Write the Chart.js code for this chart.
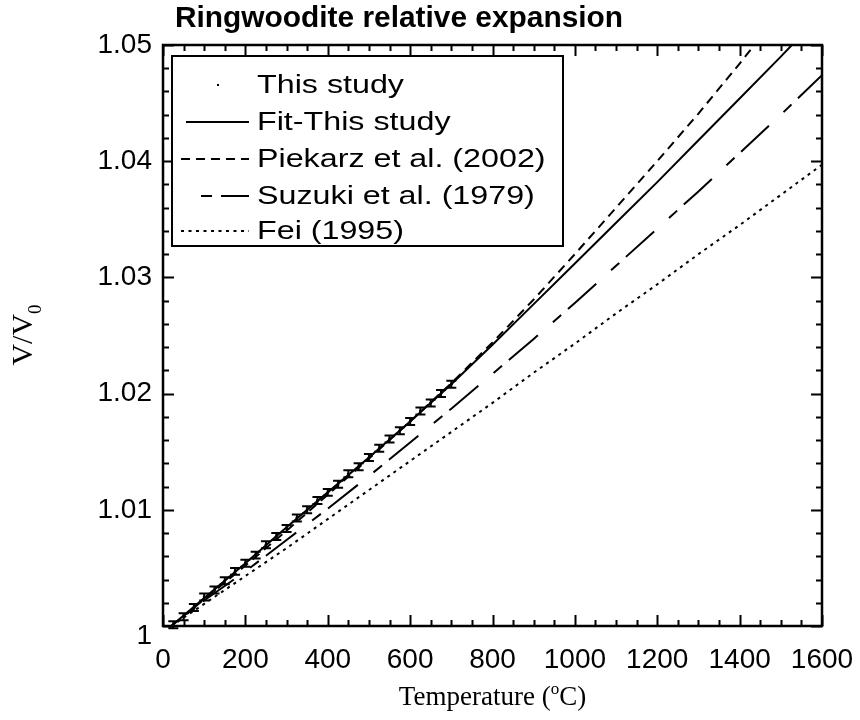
<!DOCTYPE html>
<html>
<head>
<meta charset="utf-8">
<script src="https://cdn.jsdelivr.net/npm/chart.js@4"></script>
<style>
  body { margin: 0; background: #fff; }
  #wrap { width: 860px; height: 720px; }
</style>
</head>
<body>
<div id="wrap"><canvas id="c" width="860" height="720"></canvas></div>
<script>
// ================= DATA =================
const TITLE = "Ringwoodite relative expansion";

// measured points (This study) with error bars
const OBS_T = [25, 50, 75, 100, 125, 150, 175, 200, 225, 250, 275, 300, 325, 350,
               375, 400, 425, 450, 475, 500, 525, 550, 575, 600, 625, 650, 675, 700];
const OBS_V = [1.0001, 1.0008, 1.0016, 1.0025, 1.0031, 1.0039, 1.0047, 1.0054, 1.0061, 1.0070,
               1.0077, 1.0084, 1.0093, 1.0100, 1.0108, 1.0115, 1.0122, 1.0131, 1.0137, 1.0145,
               1.0153, 1.0161, 1.0168, 1.0176, 1.0185, 1.0192, 1.0200, 1.0208];
const OBS_ERR = [0.0003, 0.0003, 0.0003, 0.0003, 0.0003, 0.0003, 0.0003, 0.0003, 0.0003, 0.0003,
                 0.0003, 0.0003, 0.0003, 0.0003, 0.0003, 0.0003, 0.0003, 0.0003, 0.0003, 0.0003,
                 0.0003, 0.0003, 0.0003, 0.0003, 0.0003, 0.0003, 0.0003, 0.0003];

// model curves
const LINE_T  = [20, 100, 200, 300, 400, 500, 600, 700, 800, 900, 1000, 1100, 1200, 1300, 1400, 1500, 1600];
const FIT     = [1.0000, 1.0024, 1.0054, 1.0085, 1.0115, 1.0145, 1.0176, 1.0208, 1.0242, 1.0277, 1.0312, 1.0347, 1.0382, 1.0418, 1.0454, 1.0490, 1.0527];
const PIEKARZ = [1.0000, 1.0023, 1.0052, 1.0082, 1.0113, 1.0144, 1.0176, 1.0209, 1.0244, 1.0281, 1.0320, 1.0360, 1.0400, 1.0441, 1.0484, 1.0529, 1.0575];
const SUZUKI  = [1.0000, 1.0022, 1.0047, 1.0074, 1.0101, 1.0129, 1.0158, 1.0187, 1.0217, 1.0247, 1.0278, 1.0310, 1.0342, 1.0374, 1.0407, 1.0440, 1.0474];
const FEI     = [1.0000, 1.0019, 1.0043, 1.0067, 1.0092, 1.0117, 1.0142, 1.0167, 1.0192, 1.0218, 1.0243, 1.0269, 1.0294, 1.0320, 1.0345, 1.0371, 1.0397];

const X_TICKS = [0, 200, 400, 600, 800, 1000, 1200, 1400, 1600];
const Y_TICKS = [1, 1.01, 1.02, 1.03, 1.04, 1.05];
const Y_TICK_LABELS = ["1", "1.01", "1.02", "1.03", "1.04", "1.05"];
const X_MINOR = 50;
const Y_MINOR = 0.002;

const LEGEND = ["This study", "Fit-This study", "Piekarz et al. (2002)", "Suzuki et al. (1979)", "Fei (1995)"];

// ================= HELPERS =================
const pts = (xs, ys) => xs.map((x, i) => ({ x: x, y: ys[i] }));
const SANS = "'Liberation Sans', Arial, sans-serif";
const SERIF = "'Liberation Serif', 'Times New Roman', serif";

function stretchText(ctx, txt, x, y, align, sx) {
  const w = ctx.measureText(txt).width * sx;
  let x0 = x;
  if (align === "center") x0 = x - w / 2;
  else if (align === "right") x0 = x - w;
  ctx.save();
  ctx.translate(x0, y);
  ctx.scale(sx, 1);
  ctx.textAlign = "left";
  ctx.fillText(txt, 0, 0);
  ctx.restore();
}

// ================= PLUGIN: frame, ticks, labels, legend =================
const decor = {
  id: "decor",
  afterDatasetsDraw(chart) {
    const ctx = chart.ctx;
    const ys = chart.scales.y;

    // error bars for measured points
    const meta = chart.getDatasetMeta(0);
    ctx.save();
    ctx.strokeStyle = "#000";
    ctx.lineWidth = 2;
    meta.data.forEach((p, i) => {
      const yTop = ys.getPixelForValue(OBS_V[i] + OBS_ERR[i]);
      const yBot = ys.getPixelForValue(OBS_V[i] - OBS_ERR[i]);
      ctx.beginPath();
      ctx.moveTo(p.x, yTop); ctx.lineTo(p.x, yBot);
      ctx.moveTo(p.x - 5, yTop); ctx.lineTo(p.x + 5, yTop);
      ctx.moveTo(p.x - 5, yBot); ctx.lineTo(p.x + 5, yBot);
      ctx.stroke();
    });
    ctx.restore();
  },
  afterDraw(chart) {
    const ctx = chart.ctx;
    const xs = chart.scales.x, ys = chart.scales.y;
    const a = chart.chartArea;
    ctx.save();
    ctx.strokeStyle = "#000";
    ctx.fillStyle = "#000";

    // frame
    ctx.lineWidth = 2.5;
    ctx.strokeRect(a.left, a.top, a.right - a.left, a.bottom - a.top);

    // ticks, pointing inward on all four sides
    ctx.lineWidth = 2;
    ctx.beginPath();
    for (let v = xs.min; v <= xs.max + 1e-9; v += X_MINOR) {
      const px = Math.round(xs.getPixelForValue(v)) + 0.5;
      const len = X_TICKS.includes(v) ? 11 : 6;
      ctx.moveTo(px, a.bottom); ctx.lineTo(px, a.bottom - len);
      ctx.moveTo(px, a.top); ctx.lineTo(px, a.top + len);
    }
    for (let k = 0; k * Y_MINOR <= ys.max - ys.min + 1e-9; k++) {
      const v = ys.min + k * Y_MINOR;
      const py = Math.round(ys.getPixelForValue(v)) + 0.5;
      const len = k % 5 === 0 ? 11 : 6;
      ctx.moveTo(a.left, py); ctx.lineTo(a.left + len, py);
      ctx.moveTo(a.right, py); ctx.lineTo(a.right - len, py);
    }
    ctx.stroke();

    // tick labels
    ctx.font = "28px " + SANS;
    ctx.textBaseline = "middle";
    X_TICKS.forEach(v => {
      stretchText(ctx, String(v), xs.getPixelForValue(v), a.bottom + 34, "center", 1.0);
    });
    Y_TICKS.forEach((v, i) => {
      const dy = i === 0 ? 10 : 0;
      stretchText(ctx, Y_TICK_LABELS[i], a.left - 11, ys.getPixelForValue(v) + dy, "right", 1.0);
    });

    // title
    ctx.font = "bold 29px " + SANS;
    stretchText(ctx, TITLE, 399, 19, "center", 1.03);

    // x axis title with superscript
    ctx.textBaseline = "alphabetic";
    const p1 = "Temperature (", p2 = "o", p3 = "C)";
    ctx.font = "27px " + SERIF;
    const w1 = ctx.measureText(p1).width, w3 = ctx.measureText(p3).width;
    ctx.font = "17px " + SERIF;
    const w2 = ctx.measureText(p2).width;
    let x0 = (a.left + a.right) / 2 - (w1 + w2 + w3) / 2;
    const yb = 705;
    ctx.font = "27px " + SERIF;
    stretchText(ctx, p1, x0, yb, "left", 1.0);
    ctx.font = "17px " + SERIF;
    stretchText(ctx, p2, x0 + w1, yb - 11, "left", 1.0);
    ctx.font = "27px " + SERIF;
    stretchText(ctx, p3, x0 + w1 + w2, yb, "left", 1.0);

    // y axis title V/V0 rotated
    ctx.save();
    ctx.translate(32, 335);
    ctx.rotate(-Math.PI / 2);
    ctx.font = "30px " + SERIF;
    const q1 = "V/V";
    const wq = ctx.measureText(q1).width;
    ctx.font = "19px " + SERIF;
    const wq2 = ctx.measureText("0").width;
    const qx = -(wq + wq2) / 2;
    ctx.font = "30px " + SERIF;
    stretchText(ctx, q1, qx, 0, "left", 1.0);
    ctx.font = "19px " + SERIF;
    stretchText(ctx, "0", qx + wq, 9, "left", 1.0);
    ctx.restore();

    // legend box
    const lx = 172, ly = 56, lw = 391, lh = 190;
    ctx.fillStyle = "#fff";
    ctx.fillRect(lx, ly, lw, lh);
    ctx.lineWidth = 2;
    ctx.strokeRect(lx, ly, lw, lh);
    ctx.fillStyle = "#000";
    ctx.textBaseline = "middle";
    const rowY = [85, 122, 159, 196, 231];
    ctx.font = "25px " + SANS;
    chart.data.datasets.forEach((ds, i) => {
      const y = rowY[i];
      if (i === 0) {
        ctx.fillRect(217, y - 1, 2, 2);
      } else {
        ctx.save();
        ctx.lineWidth = 2;
        ctx.setLineDash(ds.borderDash || []);
        ctx.lineDashOffset = ds.borderDashOffset || 0;
        ctx.beginPath();
        ctx.moveTo(i === 1 ? 186 : 181, y); ctx.lineTo(249, y);
        ctx.stroke();
        ctx.restore();
      }
      stretchText(ctx, LEGEND[i], 257, y + 1, "left", 1.29);
    });
    ctx.restore();
  }
};

// ================= CHART =================
const lineSet = (label, ys, dash, offset) => ({
  label: label,
  data: pts(LINE_T, ys),
  showLine: true,
  borderColor: "#000",
  borderWidth: 2,
  borderDash: dash,
  borderDashOffset: offset || 0,
  pointRadius: 0,
  fill: false
});

new Chart(document.getElementById("c"), {
  type: "scatter",
  data: {
    datasets: [
      {
        label: LEGEND[0],
        data: pts(OBS_T, OBS_V),
        pointRadius: 1,
        pointBackgroundColor: "#000",
        pointBorderColor: "#000",
        showLine: false
      },
      lineSet(LEGEND[1], FIT, []),
      lineSet(LEGEND[2], PIEKARZ, [9, 6]),
      lineSet(LEGEND[3], SUZUKI, [38, 20, 11, 9], 38),
      lineSet(LEGEND[4], FEI, [3, 4.5])
    ]
  },
  options: {
    responsive: false,
    animation: false,
    layout: { padding: { left: 163, right: 38, top: 45, bottom: 94 } },
    plugins: { legend: { display: false }, title: { display: false }, tooltip: { enabled: false } },
    scales: {
      x: { type: "linear", min: 0, max: 1600, display: false },
      y: { type: "linear", min: 1, max: 1.05, display: false }
    }
  },
  plugins: [decor]
});
</script>
</body>
</html>
